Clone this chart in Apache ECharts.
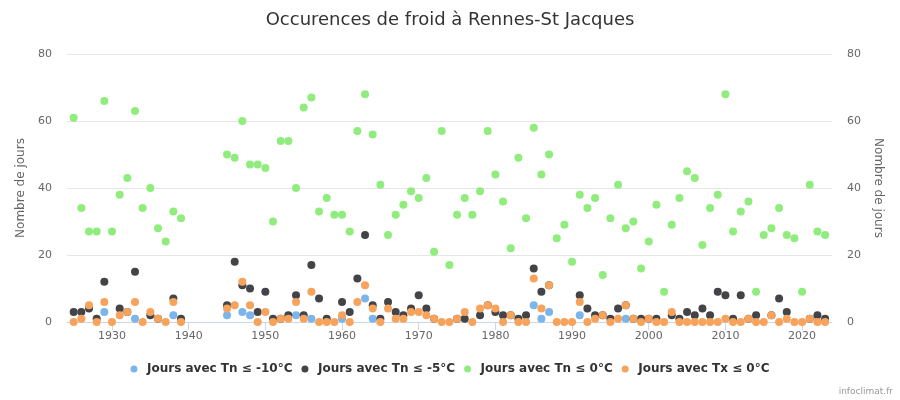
<!DOCTYPE html>
<html><head><meta charset="utf-8">
<script src="https://cdn.jsdelivr.net/npm/echarts/dist/echarts.min.js"></script>
<style>html,body{margin:0;padding:0;background:#fff}#c{width:900px;height:400px}</style>
</head><body><div id="c"></div>
<script>
const FONT = "'DejaVu Sans', sans-serif";

const years = [1925,1926,1927,1928,1929,1930,1931,1932,1933,1934,1935,1936,1937,1938,1939,
  1945,1946,1947,1948,1949,1950,1951,1952,1953,1954,1955,1956,1957,1958,1959,
  1960,1961,1962,1963,1964,1965,1966,1967,1968,1969,1970,1971,1972,1973,1974,
  1975,1976,1977,1978,1979,1980,1981,1982,1983,1984,1985,1986,1987,1988,1989,
  1990,1991,1992,1993,1994,1995,1996,1997,1998,1999,2000,2001,2002,2003,2004,
  2005,2006,2007,2008,2009,2010,2011,2012,2013,2014,2015,2016,2017,2018,2019,
  2020,2021,2022,2023];

// Jours avec Tn <= -10°C (null = no point drawn)
const tnMinus10 = [null,null,null,null,3,null,null,null,1,null,null,null,null,2,null,
  2,null,3,2,null,null,null,null,null,2,null,1,null,null,null,
  1,null,null,7,1,null,null,null,null,null,null,null,null,null,null,
  null,null,null,null,null,null,null,null,null,null,5,1,3,null,null,
  null,2,null,null,null,null,null,1,null,null,null,null,null,null,null,
  null,null,null,null,null,null,null,null,null,null,null,null,null,null,null,
  null,null,null,null];

// Jours avec Tn <= -5°C (null = no point drawn)
const tnMinus5 = [3,3,4,1,12,null,4,3,15,null,2,1,null,7,1,
  5,18,11,10,3,9,1,1,2,8,2,17,7,1,null,
  6,3,13,26,5,1,6,3,2,4,8,4,1,null,null,
  1,1,null,2,5,3,2,2,1,2,16,9,11,null,null,
  null,8,4,2,2,1,4,5,1,1,1,1,null,2,1,
  3,2,4,2,9,8,1,8,1,2,null,2,7,3,null,
  null,1,2,1];

// Jours avec Tn <= 0°C
const tn0 = [61,34,27,27,66,27,38,43,63,34,40,28,24,33,31,
  50,49,60,47,47,46,30,54,54,40,64,67,33,37,32,
  32,27,57,68,56,41,26,32,35,39,37,43,21,57,17,
  32,37,32,39,57,44,36,22,49,31,58,44,50,25,29,
  18,38,34,37,14,31,41,28,30,16,24,35,9,29,37,
  45,43,23,34,38,68,27,33,36,9,26,28,34,26,25,
  9,41,27,26];

// Jours avec Tx <= 0°C
const tx0 = [0,1,5,0,6,0,2,3,6,0,3,1,0,6,0,
  4,5,12,5,0,3,0,1,1,6,1,9,0,0,0,
  2,0,6,11,4,0,4,1,1,3,3,2,1,0,0,
  1,3,0,4,5,4,0,2,0,0,13,4,11,0,0,
  0,6,0,1,2,0,1,5,1,0,1,0,0,3,0,
  0,0,0,0,0,1,0,0,1,0,0,2,0,1,0,
  0,1,0,0];

const xTicks = [1930,1940,1950,1960,1970,1980,1990,2000,2010,2020];
const yTicks = [0,20,40,60,80];

const seriesNames = ['Jours avec Tn ≤ -10°C','Jours avec Tn ≤ -5°C','Jours avec Tn ≤ 0°C','Jours avec Tx ≤ 0°C'];
const seriesValues = [tnMinus10, tnMinus5, tn0, tx0];
const colors = ['#7cb5ec','#434348','#90ed7d','#f7a35c'];

function pairs(vals){
  const out = [];
  vals.forEach((v,i)=>{ if(v!==null) out.push([years[i], v]); });
  return out;
}

const chart = echarts.init(document.getElementById('c'), null, {renderer:'canvas'});
const yAxisBase = {
  type:'value', min:yTicks[0], max:yTicks[yTicks.length-1], interval:20,
  name:'Nombre de jours', nameLocation:'middle',
  nameTextStyle:{color:'#666', fontSize:12, fontFamily:FONT},
  axisLine:{show:false}, axisTick:{show:false},
  axisLabel:{color:'#666', fontSize:11, fontFamily:FONT, margin:15},
  splitLine:{lineStyle:{color:'#e6e6e6', width:1}}
};
chart.setOption({
  animation:false,
  color: colors,
  textStyle:{fontFamily:FONT},
  title:{
    text:'Occurences de froid à Rennes-St Jacques', left:'center', top:6,
    textStyle:{fontSize:18, fontWeight:'normal', color:'#333', fontFamily:FONT}
  },
  legend:{
    bottom:20, left:'center', icon:'circle', itemWidth:16, itemHeight:7, itemGap:9,
    textStyle:{fontSize:12, fontWeight:'bold', color:'#333', fontFamily:FONT},
    data: seriesNames
  },
  graphic:[{
    type:'text', right:7, bottom:4,
    style:{text:'infoclimat.fr', fill:'#999', fontSize:9, fontFamily:FONT}
  }],
  grid:{left:67, right:68, top:54, bottom:78, containLabel:false},
  xAxis:{
    type:'value', min:1924.13, max:2023.9,
    axisLine:{lineStyle:{color:'#ccd6eb'}},
    axisTick:{show:true, length:8, lineStyle:{color:'#ccd6eb'}, customValues:xTicks},
    axisLabel:{color:'#666', fontSize:11, fontFamily:FONT, margin:9, customValues:xTicks,
      formatter:(v)=>String(Math.round(v))},
    splitLine:{show:false}
  },
  yAxis:[
    Object.assign({}, yAxisBase, {position:'left', nameGap:40}),
    Object.assign({}, yAxisBase, {position:'right', nameGap:39, nameRotate:-90, splitLine:{show:false}})
  ],
  series: seriesNames.map((n,i)=>({
    name:n, type:'scatter', yAxisIndex:0, symbol:'circle', symbolSize:8,
    itemStyle:{color:colors[i], opacity:1}, data:pairs(seriesValues[i]), z:2+i
  }))
});
</script>
</body></html>
